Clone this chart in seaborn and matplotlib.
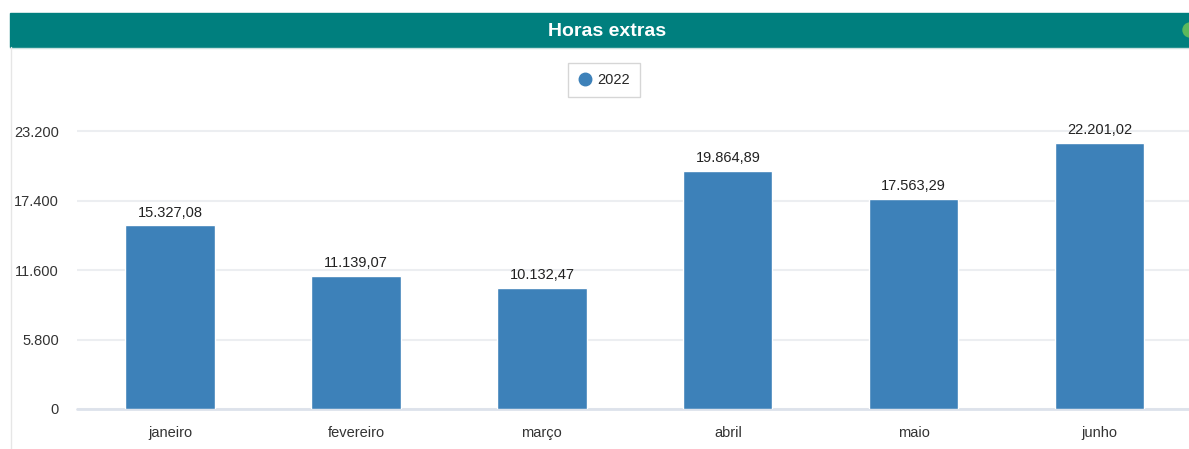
import matplotlib
matplotlib.use("Agg")
import matplotlib.pyplot as plt
import matplotlib.patches as mpatches
from matplotlib.lines import Line2D
import seaborn as sns
import pandas as pd

sns.set_theme(style="white")
plt.rcParams["font.family"] = ["Liberation Sans Narrow", "Liberation Sans", "DejaVu Sans"]

# Data
months = ["janeiro", "fevereiro", "março", "abril", "maio", "junho"]
hours = [15327.08, 11139.07, 10132.47, 19864.89, 17563.29, 22201.02]
yticks = [0, 5800, 11600, 17400, 23200]
ytick_labels = ["0", "5.800", "11.600", "17.400", "23.200"]
series_name = "2022"

bar_color = "#3d81b9"
teal = "#007f7e"

df = pd.DataFrame({"mes": months, "horas": hours})

W, H = 1189, 449
fig = plt.figure(figsize=(W / 100, H / 100), dpi=100)
fig.patch.set_facecolor("white")

# header bar
fig.add_artist(mpatches.Rectangle((10 / W, 1 - 47 / H), 1 - 10 / W, 34 / H,
                                  transform=fig.transFigure, color=teal, zorder=0))
fig.add_artist(Line2D([10 / W, 1], [1 - 47.5 / H] * 2, transform=fig.transFigure,
                      color="#c8e0df", lw=1))
fig.add_artist(Line2D([10.5 / W] * 2, [0, 1 - 47 / H], transform=fig.transFigure,
                      color="#e6e6e6", lw=1))
fig.add_artist(mpatches.Ellipse((1190 / W, 1 - 30 / H), 14 / W, 14 / H,
                                transform=fig.transFigure, color="#5cb85c", zorder=2))
fig.text(607 / W, 1 - 31 / H, "Horas extras", color="white", fontsize=14,
         fontweight="bold", ha="center", va="center")

# axes
left, right, bottom = 77, 1189, 409
ymax = 24100
top = bottom - ymax / 23200 * 278
ax = fig.add_axes([left / W, 1 - bottom / H, (right - left) / W, (bottom - top) / H])

sns.barplot(data=df, x="mes", y="horas", color=bar_color, width=0.48,
            saturation=1, ax=ax, zorder=2)

ax.set_xlim(-0.5, 5.48)
ax.set_ylim(0, ymax)
ax.set_yticks(yticks)
ax.set_yticklabels(ytick_labels)
ax.set_xlabel("")
ax.set_ylabel("")
ax.tick_params(axis="y", length=0, pad=13, labelsize=10.5, labelcolor="#333333")
ax.tick_params(axis="x", length=0, pad=12, labelsize=10.5, labelcolor="#333333")
for s in ax.spines.values():
    s.set_visible(False)
ax.grid(axis="y", color="#eceef1", lw=1.5)
ax.axhline(0, color="#dde2eb", lw=2, zorder=1.5, clip_on=False)
ax.set_axisbelow(True)

for i, v in enumerate(hours):
    lbl = f"{v:,.2f}".replace(",", "X").replace(".", ",").replace("X", ".")
    ax.annotate(lbl, (i, v), xytext=(0, 4), textcoords="offset points",
                ha="center", va="bottom", fontsize=10.5, color="#222222")

# legend
handle = Line2D([], [], marker="o", ls="", color=bar_color, markersize=9)
leg = fig.legend([handle], [series_name], loc="center", bbox_to_anchor=(604 / W, 1 - 80 / H),
                 frameon=True, fontsize=10.5, handletextpad=0.35, borderpad=0.7,
                 borderaxespad=0, fancybox=False, handlelength=0.9)
leg.get_frame().set_edgecolor("#cccccc")

fig.savefig("out.png", dpi=100)
